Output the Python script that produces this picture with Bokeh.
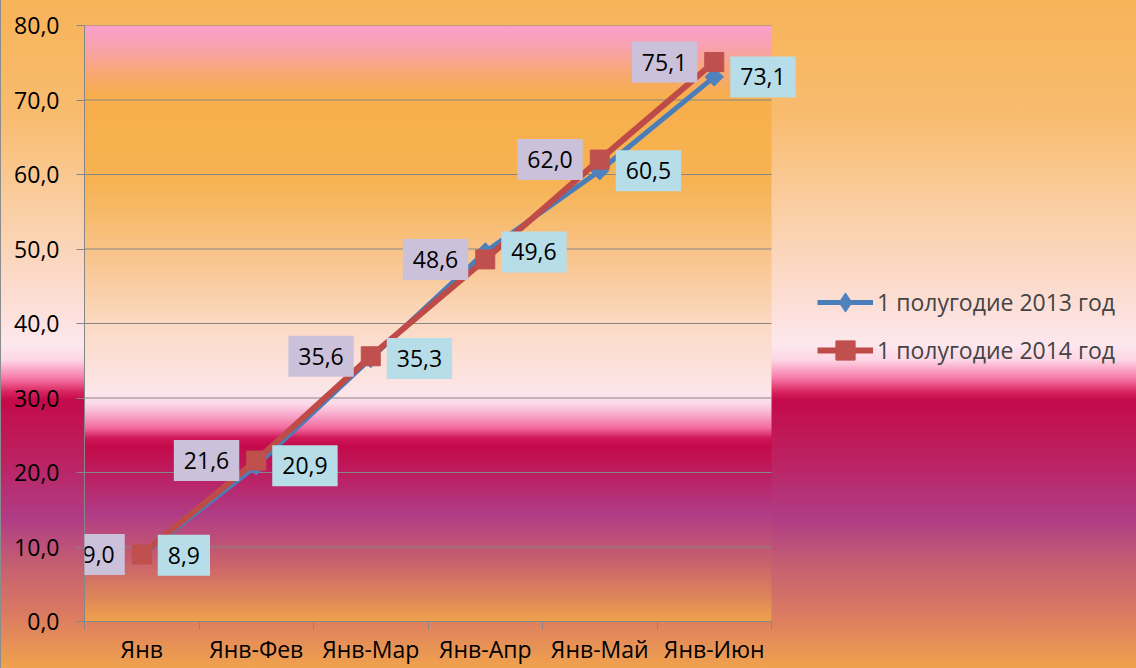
import numpy as np
from bokeh.plotting import figure
from bokeh.models import Range1d, FixedTicker, Label, Legend, LegendItem
from bokeh.embed import file_html
from bokeh.resources import INLINE

# ---------------- data ----------------
categories = ["Янв", "Янв-Фев", "Янв-Мар", "Янв-Апр", "Янв-Май", "Янв-Июн"]
values_2013 = [8.9, 20.9, 35.3, 49.6, 60.5, 73.1]
values_2014 = [9.0, 21.6, 35.6, 48.6, 62.0, 75.1]
series_names = ["1 полугодие 2013 год", "1 полугодие 2014 год"]
y_ticks = [0, 10, 20, 30, 40, 50, 60, 70, 80]


def fmt(v):
    return f"{v:.1f}".replace(".", ",")


x_pos = list(range(1, len(categories) + 1))
x_lo, x_hi = 0.5, len(categories) + 0.5

FONT = "Open Sans"
FS = "23px"
GRAY = "#868686"
BLUE = "#4A7EBB"
RED = "#BE4B48"

W, H = 1136, 668
PLOT_L, PLOT_R, PLOT_T, PLOT_B = 84, 771, 25, 621   # plot-area box in px

# outer (chart area) gradient, px from figure top
outer_stops = [
    (0, "#F7B358"), (118, "#F8BC70"), (218, "#FAD0A8"), (298, "#FCDDD2"),
    (345, "#FDE7EE"), (360, "#FCD6E4"), (378, "#F77AAA"), (392, "#D8245E"),
    (400, "#C40A4A"), (460, "#BC2262"), (518, "#B03C86"), (563, "#C45E72"),
    (613, "#DA7A62"), (668, "#F0A24E"),
]
css_grad = "linear-gradient(180deg, " + ", ".join(f"{c} {y}px" for y, c in outer_stops) + ")"

# the frame extends to the right edge so the legend and labels are not clipped;
# the x range is widened so the category band keeps the plot-area width
x_end = x_lo + (x_hi - x_lo) * (W - PLOT_L) / (PLOT_R - PLOT_L)

p = figure(width=W, height=H, output_backend="svg", toolbar_location=None,
           x_range=Range1d(x_lo, x_end), y_range=Range1d(0, 80),
           min_border_left=PLOT_L, min_border_right=0, min_border_top=PLOT_T,
           min_border_bottom=H - PLOT_B)
p.styles = {"background": css_grad, "box-shadow": "inset 1px 0 0 #8c8c8c"}
p.border_fill_alpha = 0
p.background_fill_alpha = 0
p.outline_line_color = None

# inner (plot area) gradient, fraction of plot-area height from top
inner_stops = [
    (0.000, "#F9A0CC"), (0.034, "#F9A2B0"), (0.075, "#F8A878"), (0.117, "#F7AF4C"),
    (0.260, "#F7B352"), (0.394, "#F9C690"), (0.512, "#FCDCC8"), (0.616, "#FDE6EA"),
    (0.634, "#FCDCEA"), (0.652, "#F9B0D0"), (0.676, "#F46AA0"), (0.693, "#D01858"),
    (0.706, "#C50A4A"), (0.747, "#BE1C5E"), (0.817, "#B03C86"), (0.898, "#C8606E"),
    (0.965, "#E08A58"), (1.000, "#F0A24C"),
]
n = 600
f = np.linspace(0, 1, n)
sf = np.array([s[0] for s in inner_stops])
cols = np.array([[int(c[1:3], 16), int(c[3:5], 16), int(c[5:7], 16)] for _, c in inner_stops])
img = np.empty((n, 1), dtype=np.uint32)
view = img.view(dtype=np.uint8).reshape((n, 1, 4))
for k in range(3):
    view[:, 0, k] = np.interp(f, sf, cols[:, k])[::-1].astype(np.uint8)
view[:, 0, 3] = 255
p.image_rgba(image=[img], x=x_lo, y=0, dw=x_hi - x_lo, dh=80, level="image")

# grid lines limited to the plot area
p.xgrid.visible = False
p.ygrid.visible = False
p.segment(x0=[x_lo] * len(y_ticks), y0=y_ticks, x1=[x_hi] * len(y_ticks), y1=y_ticks,
          line_color=GRAY, line_width=1.2, level="underlay")

# axes
p.xaxis.bounds = (x_lo, x_hi)
p.xaxis.ticker = FixedTicker(ticks=x_pos, minor_ticks=[i + 0.5 for i in range(0, len(categories) + 1)])
p.xaxis.major_label_overrides = {x: c for x, c in zip(x_pos, categories)}
p.xaxis.major_tick_out = 0
p.xaxis.major_tick_in = 0
p.xaxis.minor_tick_out = 8
p.xaxis.minor_tick_in = 0
p.xaxis.minor_tick_line_color = GRAY
p.xaxis.axis_line_color = GRAY
p.xaxis.major_label_standoff = 3

p.yaxis.ticker = FixedTicker(ticks=y_ticks, minor_ticks=[])
p.yaxis.major_label_overrides = {t: fmt(t) for t in y_ticks}
p.yaxis.major_tick_out = 8
p.yaxis.major_tick_in = 0
p.yaxis.minor_tick_out = 0
p.yaxis.minor_tick_in = 0
p.yaxis.major_tick_line_color = GRAY
p.yaxis.axis_line_color = GRAY
p.yaxis.major_label_standoff = 17

for ax in (p.xaxis, p.yaxis):
    ax.major_label_text_font = FONT
    ax.major_label_text_font_size = FS
    ax.major_label_text_color = "black"

# series
l13 = p.line(x_pos, values_2013, line_color=BLUE, line_width=5)
p.scatter(x_pos, values_2013, marker="square", angle=np.pi / 4, size=13,
          fill_color="#4F81BD", line_color="#4F81BD")
leg13 = p.scatter(x_pos, values_2013, marker="diamond", size=0,
                  fill_color="#4F81BD", line_color="#4F81BD")
l14 = p.line(x_pos, values_2014, line_color=RED, line_width=6)
s14 = p.scatter(x_pos, values_2014, marker="square", size=19,
                fill_color="#C0504D", line_color="#C0504D")

# data labels
pad = dict(left=10, right=10, top=12, bottom=12)
for x, v in zip(x_pos, values_2014):
    p.add_layout(Label(x=x, y=v, text=fmt(v), x_offset=-17, anchor="center_right",
                       padding=pad, background_fill_color="#CCC1DA",
                       text_font=FONT, text_font_size=FS, text_color="black"))
for x, v in zip(x_pos, values_2013):
    p.add_layout(Label(x=x, y=v, text=fmt(v), x_offset=16, anchor="center_left",
                       padding=pad, background_fill_color="#B7DEE8",
                       text_font=FONT, text_font_size=FS, text_color="black"))

legend = Legend(items=[LegendItem(label=series_names[0], renderers=[l13, leg13]),
                       LegendItem(label=series_names[1], renderers=[l14, s14])],
                location=(817 - PLOT_L, PLOT_B - 374), orientation="vertical",
                glyph_width=56, glyph_height=48, label_height=48, spacing=0,
                padding=0, margin=0, label_standoff=4,
                label_text_font=FONT, label_text_font_size=FS,
                background_fill_alpha=0, border_line_color=None)
p.add_layout(legend, "center")

open("out.html", "w").write(file_html(p, INLINE))
